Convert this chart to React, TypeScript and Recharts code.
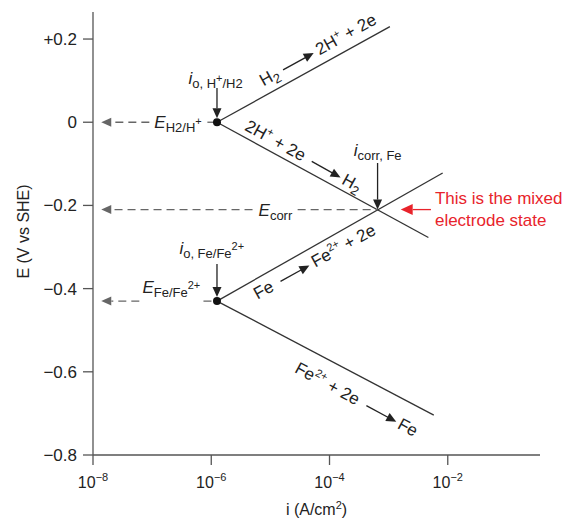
import React from 'react';
import { ComposedChart, Line, XAxis, YAxis, ReferenceLine, ReferenceDot } from 'recharts';

const FONT = '"Liberation Sans", Arial, Helvetica, sans-serif';
const INK = '#222';
const LINE = '#333';
const AXIS = '#555';
const DASH = '#666';
const RED = '#e8232b';

// polarisation lines, i in A/cm2, E in V vs SHE
const hAnodic = [{ i: 1.25e-6, e: 0 }, { i: 1.05e-3, e: 0.23 }];
const hCathodic = [{ i: 1.25e-6, e: 0 }, { i: 4.7e-3, e: -0.277 }];
const feAnodic = [{ i: 1.25e-6, e: -0.43 }, { i: 8.2e-3, e: -0.122 }];
const feCathodic = [{ i: 1.25e-6, e: -0.43 }, { i: 5.8e-3, e: -0.704 }];

const exchangePoints = [{ i: 1.25e-6, e: 0 }, { i: 1.25e-6, e: -0.43 }];
const corrPoint = { i: 6.5e-4, e: -0.21 };

const xTicks = [1e-8, 1e-6, 1e-4, 1e-2];
const xTickExp = ['−8', '−6', '−4', '−2'];
const yTicks = [-0.8, -0.6, -0.4, -0.2, 0, 0.2];
const yTickLabels = ['−0.8', '−0.6', '−0.4', '−0.2', '0', '+0.2'];

// dashed potential lines (broken where the labels sit)
const dashedToAxis = [
  { from: { i: 8.97e-8, e: 0 }, to: { i: 1.38e-8, e: 0 } },
  { from: { i: 4.99e-6, e: -0.21 }, to: { i: 1.38e-8, e: -0.21 } },
  { from: { i: 6.07e-8, e: -0.43 }, to: { i: 1.38e-8, e: -0.43 } },
];
const dashedToPoint = [
  { from: { i: 8.6e-7, e: 0 }, to: { i: 1.25e-6, e: 0 } },
  { from: { i: 2.89e-5, e: -0.21 }, to: corrPoint },
  { from: { i: 7.38e-7, e: -0.43 }, to: { i: 1.25e-6, e: -0.43 } },
];

// vertical arrows from the current labels
const dropArrows = [
  { from: { i: 1.25e-6, e: 0.082 }, to: { i: 1.25e-6, e: 0 }, gap: 4 },
  { from: { i: 6.5e-4, e: -0.098 }, to: corrPoint, gap: 0 },
  { from: { i: 1.25e-6, e: -0.341 }, to: { i: 1.25e-6, e: -0.43 }, gap: 4 },
];
const mixedArrow = { from: { i: 5.19e-3, e: -0.21 }, to: { i: 1.6e-3, e: -0.21 } };

// label anchors
const labelEH = { i: 1.09e-7, e: -0.014 };
const labelECorr = { i: 6.31e-6, e: -0.225 };
const labelEFe = { i: 6.85e-8, e: -0.41 };
const labelIoH = { i: 4.11e-7, e: 0.092 };
const labelICorr = { i: 2.57e-4, e: -0.081 };
const labelIoFe = { i: 2.89e-7, e: -0.317 };
const labelMixed = { i: 6.07e-3, e: -0.197 };
const flowHAnodic = { i: 9.04e-6, e: 0.068 };
const flowHCathodic = { i: 3.13e-6, e: -0.031 };
const flowFeAnodic = { i: 4.24e-6, e: -0.387 };
const flowFeCathodic = { i: 4.09e-5, e: -0.543 };

const textStyle = { fill: INK, fontFamily: FONT, fontSize: 17 };

function arrowShape(color: string, gap: number, head: number, half: number, dash?: string) {
  return (p: any) => {
    const { x1, y1, x2, y2 } = p;
    const len = Math.hypot(x2 - x1, y2 - y1) || 1;
    const ux = (x2 - x1) / len;
    const uy = (y2 - y1) / len;
    const tx = x2 - ux * gap;
    const ty = y2 - uy * gap;
    const bx = tx - ux * head;
    const by = ty - uy * head;
    return (
      <g>
        <line x1={x1} y1={y1} x2={bx} y2={by} stroke={color} strokeWidth={1.3} strokeDasharray={dash} />
        <path
          d={`M${tx},${ty}L${bx - uy * half},${by + ux * half}L${bx + uy * half},${by - ux * half}Z`}
          fill={color}
        />
      </g>
    );
  };
}

function plainShape(p: any) {
  return <line x1={p.x1} y1={p.y1} x2={p.x2} y2={p.y2} stroke={DASH} strokeWidth={1.3} strokeDasharray="8 5" />;
}

function textShape(content: React.ReactNode) {
  return ({ cx, cy }: any) => (
    <text x={cx} y={cy} {...textStyle}>
      {content}
    </text>
  );
}

function flowShape(angle: number, offset: number, left: React.ReactNode, a0: number, a1: number, rx: number, right: React.ReactNode) {
  return ({ cx, cy }: any) => (
    <g transform={`translate(${cx},${cy}) rotate(${angle}) translate(0,${offset})`}>
      <text x={0} y={0} {...textStyle}>{left}</text>
      <line x1={a0} y1={-5} x2={a1 - 9} y2={-5} stroke={INK} strokeWidth={1.3} />
      <path d={`M${a1},-5L${a1 - 10},-9.5L${a1 - 10},-0.5Z`} fill={INK} />
      <text x={rx} y={0} {...textStyle}>{right}</text>
    </g>
  );
}

const sub = (t: string, dy = 4) => <tspan dy={dy} fontSize={13}>{t}</tspan>;
const sup = (t: string, dy = -7) => <tspan dy={dy} fontSize={11}>{t}</tspan>;

function XTick({ x, y, payload }: any) {
  const idx = xTicks.indexOf(payload.value);
  return (
    <text x={x} y={y + 21} textAnchor="middle" fill={INK} fontFamily={FONT} fontSize={16}>
      <tspan>10</tspan>
      <tspan dy={-7} fontSize={11}>{xTickExp[idx]}</tspan>
    </text>
  );
}

function XTitle({ viewBox }: any) {
  return (
    <text x={viewBox.x + viewBox.width / 2} y={viewBox.y + 60} textAnchor="middle" {...textStyle} fontSize={16}>
      i (A/cm<tspan dy={-6} fontSize={11}>2</tspan><tspan dy={6}>)</tspan>
    </text>
  );
}

function YTitle({ viewBox }: any) {
  const x = viewBox.x + 15;
  const y = viewBox.y + viewBox.height / 2 - 2;
  return (
    <text x={x} y={y} transform={`rotate(-90, ${x}, ${y})`} textAnchor="middle" dominantBaseline="central" {...textStyle} fontSize={16}>
      E (V vs SHE)
    </text>
  );
}

export default function App() {
  const lineProps = { type: 'linear' as const, dataKey: 'e', stroke: LINE, strokeWidth: 1.3, dot: false, activeDot: false, isAnimationActive: false };
  return (
    <ComposedChart width={554} height={512} margin={{ top: 4, right: 22, bottom: 0, left: 0 }}>
      <XAxis
        dataKey="i"
        type="number"
        scale="log"
        domain={[1e-8, 0.363]}
        allowDataOverflow
        ticks={xTicks}
        tick={<XTick />}
        tickSize={10}
        height={65}
        axisLine={{ stroke: AXIS, strokeWidth: 1.3 }}
        tickLine={{ stroke: AXIS, strokeWidth: 1.3 }}
        label={<XTitle />}
      />
      <YAxis
        type="number"
        domain={[-0.8, 0.265]}
        allowDataOverflow
        ticks={yTicks}
        tickFormatter={(v: number) => yTickLabels[yTicks.indexOf(v)] ?? ''}
        tick={{ fill: INK, fontFamily: FONT, fontSize: 17 }}
        tickSize={10}
        tickMargin={6}
        width={85}
        axisLine={{ stroke: AXIS, strokeWidth: 1.3 }}
        tickLine={{ stroke: AXIS, strokeWidth: 1.3 }}
        label={<YTitle />}
      />

      <Line data={hAnodic} {...lineProps} />
      <Line data={hCathodic} {...lineProps} />
      <Line data={feAnodic} {...lineProps} />
      <Line data={feCathodic} {...lineProps} />

      {dashedToAxis.map((s, k) => (
        <ReferenceLine
          key={`da${k}`}
          segment={[{ x: s.from.i, y: s.from.e }, { x: s.to.i, y: s.to.e }]}
          shape={arrowShape(DASH, 0, 10, 4.5, '8 5')}
          ifOverflow="visible"
        />
      ))}
      {dashedToPoint.map((s, k) => (
        <ReferenceLine
          key={`dp${k}`}
          segment={[{ x: s.from.i, y: s.from.e }, { x: s.to.i, y: s.to.e }]}
          shape={plainShape}
          ifOverflow="visible"
        />
      ))}
      {dropArrows.map((s, k) => (
        <ReferenceLine
          key={`dr${k}`}
          segment={[{ x: s.from.i, y: s.from.e }, { x: s.to.i, y: s.to.e }]}
          shape={arrowShape(INK, s.gap, 10, 4.5)}
          ifOverflow="visible"
        />
      ))}
      <ReferenceLine
        segment={[{ x: mixedArrow.from.i, y: mixedArrow.from.e }, { x: mixedArrow.to.i, y: mixedArrow.to.e }]}
        shape={arrowShape(RED, 0, 12, 5.5)}
        ifOverflow="visible"
      />

      {exchangePoints.map((p, k) => (
        <ReferenceDot key={`ex${k}`} x={p.i} y={p.e} r={4} fill="#111" stroke="none" ifOverflow="visible" />
      ))}

      <ReferenceDot x={labelEH.i} y={labelEH.e} r={1} ifOverflow="visible"
        shape={textShape(<><tspan fontStyle="italic">E</tspan>{sub('H2/H')}{sup('+')}</>)} />
      <ReferenceDot x={labelECorr.i} y={labelECorr.e} r={1} ifOverflow="visible"
        shape={textShape(<><tspan fontStyle="italic">E</tspan>{sub('corr')}</>)} />
      <ReferenceDot x={labelEFe.i} y={labelEFe.e} r={1} ifOverflow="visible"
        shape={textShape(<><tspan fontStyle="italic">E</tspan>{sub('Fe/Fe')}{sup('2+', -8)}</>)} />
      <ReferenceDot x={labelIoH.i} y={labelIoH.e} r={1} ifOverflow="visible"
        shape={textShape(<><tspan fontStyle="italic">i</tspan>{sub('o, H')}{sup('+', -6)}{sub('/H2', 6)}</>)} />
      <ReferenceDot x={labelICorr.i} y={labelICorr.e} r={1} ifOverflow="visible"
        shape={textShape(<><tspan fontStyle="italic">i</tspan>{sub('corr, Fe')}</>)} />
      <ReferenceDot x={labelIoFe.i} y={labelIoFe.e} r={1} ifOverflow="visible"
        shape={textShape(<><tspan fontStyle="italic">i</tspan>{sub('o, Fe/Fe')}{sup('2+', -8)}</>)} />
      <ReferenceDot x={labelMixed.i} y={labelMixed.e} r={1} ifOverflow="visible"
        shape={({ cx, cy }: any) => (
          <text x={cx} y={cy} fill={RED} fontFamily={FONT} fontSize={17}>
            <tspan x={cx}>This is the mixed</tspan>
            <tspan x={cx} dy={22}>electrode state</tspan>
          </text>
        )} />

      <ReferenceDot x={flowHAnodic.i} y={flowHAnodic.e} r={1} ifOverflow="visible"
        shape={flowShape(-29, -8.6, <>H{sub('2')}</>, 25, 60, 64, <>2H{sup('+')}<tspan dy={7}> + 2e</tspan></>)} />
      <ReferenceDot x={flowHCathodic.i} y={flowHCathodic.e} r={1} ifOverflow="visible"
        shape={flowShape(29, -6.5, <>2H{sup('+')}<tspan dy={7}> + 2e</tspan></>, 75, 108, 111, <>H{sub('2')}</>)} />
      <ReferenceDot x={flowFeAnodic.i} y={flowFeAnodic.e} r={1} ifOverflow="visible"
        shape={flowShape(-29, 19, <>Fe</>, 29, 62, 66, <>Fe{sup('2+')}<tspan dy={7}> + 2e</tspan></>)} />
      <ReferenceDot x={flowFeCathodic.i} y={flowFeCathodic.e} r={1} ifOverflow="visible"
        shape={flowShape(28.5, 27, <>Fe{sup('2+')}<tspan dy={7}> + 2e</tspan></>, 80, 114, 117, <>Fe</>)} />
    </ComposedChart>
  );
}
